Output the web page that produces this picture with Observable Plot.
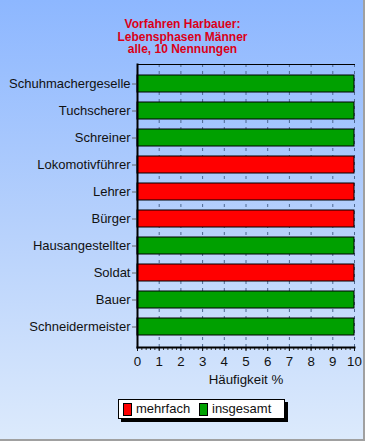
<!DOCTYPE html>
<html>
<head>
<meta charset="utf-8">
<script src="https://cdn.jsdelivr.net/npm/d3@7"></script>
<script src="https://cdn.jsdelivr.net/npm/@observablehq/plot@0.6"></script>
<style>
  html, body { margin: 0; padding: 0; }
  #wrap {
    position: relative; width: 363px; height: 439px;
    background: linear-gradient(to bottom, #8db7ff 0%, #b5d0fc 50%, #dceafc 100%);
    border-right: 2px solid #a0a0a0; border-bottom: 2px solid #a0a0a0;
    font-family: "Liberation Sans", Arial, sans-serif; overflow: hidden;
  }
  #title {
    position: absolute; left: 0; top: 18px; width: 365px; text-align: center;
    color: #dc0018; font-weight: bold; font-size: 12px; line-height: 12.7px;
  }
  #chart { position: absolute; left: 0; top: 0; }
  #legend {
    position: absolute; left: 118px; top: 399px; width: 165px; height: 18px;
    background: #fff; border: 1px solid #000; box-shadow: 3px 3px 0 #000;
    font-size: 13px; color: #111;
  }
  .sw { position: absolute; top: 3px; width: 7px; height: 11px; border: 1px solid #000; }
  .lt { position: absolute; top: 1px; line-height: 16px; }
</style>
</head>
<body>
<div id="wrap">
  <div id="chart"></div>
  <div id="title"></div>
  <div id="legend"></div>
</div>
<script>
const titleLines = ["Vorfahren Harbauer:", "Lebensphasen Männer", "alle, 10 Nennungen"];
const categories = ["Schuhmachergeselle", "Tuchscherer", "Schreiner", "Lokomotivführer", "Lehrer", "Bürger", "Hausangestellter", "Soldat", "Bauer", "Schneidermeister"];
const values = [10, 10, 10, 10, 10, 10, 10, 10, 10, 10];
const types = ["insgesamt", "insgesamt", "insgesamt", "mehrfach", "mehrfach", "mehrfach", "insgesamt", "mehrfach", "insgesamt", "insgesamt"];
const seriesNames = ["mehrfach", "insgesamt"];
const seriesColors = ["#ff0000", "#00a000"];
const xTicks = [0, 1, 2, 3, 4, 5, 6, 7, 8, 9, 10];
const xLabel = "Häufigkeit %";

document.getElementById("title").innerHTML = titleLines.join("<br>");

const data = categories.map((name, i) => ({name, value: values[i], type: types[i]}));
// minor tick positions (axis decoration): 5 per unit
const minorTicks = d3.range(0, 50.5, 1).map(i => i / 5);

const chart = Plot.plot({
  width: 363, height: 390,
  marginLeft: 137, marginRight: 9, marginTop: 64, marginBottom: 43,
  style: {background: "transparent", fontFamily: "'Liberation Sans', Arial, sans-serif", fontSize: "13px", color: "#111", overflow: "visible"},
  x: {domain: [0, 10]},
  y: {domain: categories, paddingInner: 0.37, paddingOuter: 0.28},
  color: {domain: seriesNames, range: seriesColors},
  marks: [
    Plot.gridX(xTicks.slice(1), {stroke: "#4d6890", strokeOpacity: 1, strokeDasharray: "3,4"}),
    Plot.barX(data, {x: "value", y: "name", fill: "type", stroke: "#000", strokeWidth: 1}),
    Plot.axisY({tickSize: 5, tickPadding: 2, label: null, stroke: "#666", fill: "#111"}),
    Plot.axisX({ticks: minorTicks, tickSize: 3, tickFormat: () => "", label: null, stroke: "#333"}),
    Plot.axisX({ticks: xTicks, tickSize: 4, tickPadding: 5, label: xLabel, labelAnchor: "center", labelArrow: "none", labelOffset: 36, fill: "#111", fontSize: "13.3px"}),
    Plot.frame({anchor: "top", stroke: "#000"}),
    Plot.frame({anchor: "left", stroke: "#000", strokeWidth: 2}),
    Plot.frame({anchor: "bottom", stroke: "#000", strokeWidth: 2})
  ]
});
document.getElementById("chart").appendChild(chart);

const legend = document.getElementById("legend");
const swX = [4, 80];
seriesNames.forEach((s, i) => {
  const sw = document.createElement("div");
  sw.className = "sw"; sw.style.left = swX[i] + "px"; sw.style.background = seriesColors[i];
  legend.appendChild(sw);
  const t = document.createElement("div");
  t.className = "lt"; t.style.left = (swX[i] + 13) + "px"; t.textContent = s;
  legend.appendChild(t);
});
</script>
</body>
</html>
